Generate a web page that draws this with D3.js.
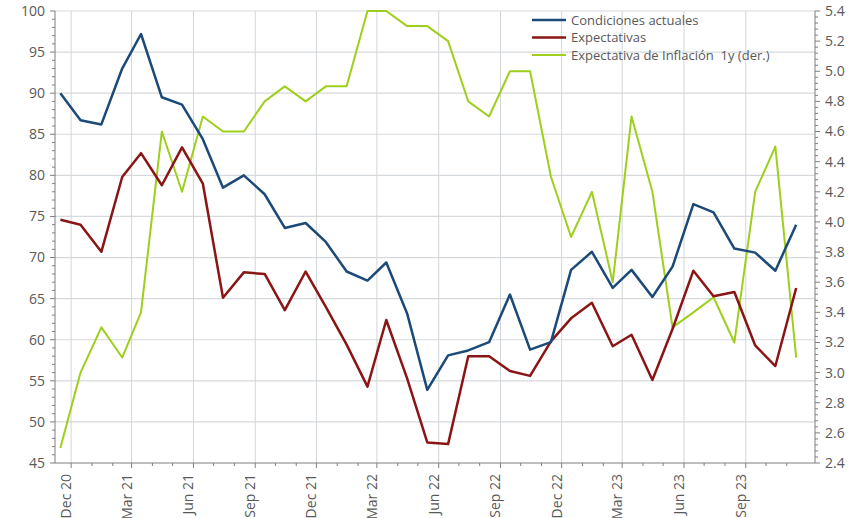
<!DOCTYPE html>
<html>
<head>
<meta charset="utf-8">
<script src="https://cdn.jsdelivr.net/npm/d3@7"></script>
<style>
  body { margin: 0; background: #fff; }
  svg { display: block; }
  text { font-family: "Open Sans", "Liberation Sans", sans-serif; fill: #595959; }
</style>
</head>
<body>
<svg id="chart" width="861" height="518"></svg>
<script>
// Months: Nov 2020 .. Nov 2023 (mid-month observations)
const months = ["2020-11","2020-12","2021-01","2021-02","2021-03","2021-04","2021-05","2021-06","2021-07","2021-08","2021-09","2021-10","2021-11","2021-12","2022-01","2022-02","2022-03","2022-04","2022-05","2022-06","2022-07","2022-08","2022-09","2022-10","2022-11","2022-12","2023-01","2023-02","2023-03","2023-04","2023-05","2023-06","2023-07","2023-08","2023-09","2023-10","2023-11"];
const condicionesActuales = [90.0,86.7,86.2,93.0,97.2,89.5,88.6,84.4,78.5,80.0,77.7,73.6,74.2,71.9,68.3,67.2,69.4,63.2,53.9,58.1,58.7,59.7,65.5,58.8,59.7,68.5,70.7,66.3,68.5,65.2,68.9,76.5,75.5,71.1,70.6,68.4,74.0];
const expectativas = [74.6,74.0,70.7,79.8,82.7,78.8,83.4,79.0,65.1,68.2,68.0,63.6,68.3,64.0,59.4,54.3,62.4,55.3,47.5,47.3,58.0,58.0,56.2,55.6,59.8,62.6,64.5,59.2,60.6,55.1,61.3,68.4,65.3,65.8,59.3,56.8,66.3];
const inflacion1y = [2.5,3.0,3.3,3.1,3.4,4.6,4.2,4.7,4.6,4.6,4.8,4.9,4.8,4.9,4.9,5.4,5.4,5.3,5.3,5.2,4.8,4.7,5.0,5.0,4.3,3.9,4.2,3.6,4.7,4.2,3.3,3.4,3.5,3.2,4.2,4.5,3.1];
const seriesNames = ["Condiciones actuales","Expectativas","Expectativa de Inflación  1y (der.)"];
const seriesColors = ["#1b4a78","#8b1515","#9dcf1c"];
const leftTicks = [45,50,55,60,65,70,75,80,85,90,95,100];
const rightTicks = [2.4,2.6,2.8,3.0,3.2,3.4,3.6,3.8,4.0,4.2,4.4,4.6,4.8,5.0,5.2,5.4];
const monthAbbr = ["Jan","Feb","Mar","Apr","May","Jun","Jul","Aug","Sep","Oct","Nov","Dec"];

const svg = d3.select("#chart");
const L = 55, R = 815, T = 11, B = 463;
const parse = s => { const [y,m] = s.split("-").map(Number); return new Date(y, m-1, 15); };
const dates = months.map(parse);

const x = d3.scaleTime().domain([new Date(2020,10,7), new Date(2023,11,13)]).range([L, R]);
const yL = d3.scaleLinear().domain([45,100]).range([B, T]);
const yR = d3.scaleLinear().domain([2.4,5.4]).range([B, T]);

const monthTicks = d3.timeMonth.range(new Date(2020,10,1), new Date(2023,11,1)).filter(d => x(d) >= L && x(d) <= R);
const quarterTicks = monthTicks.filter(d => d.getMonth() % 3 === 2);

// gridlines
const grid = svg.append("g");
grid.selectAll("line.h").data(leftTicks.slice(1)).enter().append("line")
  .attr("x1", L).attr("x2", R).attr("y1", d => yL(d)).attr("y2", d => yL(d))
  .attr("stroke", "#d6dadd").attr("stroke-width", 1.2);
grid.selectAll("line.v").data(quarterTicks).enter().append("line")
  .attr("x1", d => x(d)).attr("x2", d => x(d)).attr("y1", T).attr("y2", B)
  .attr("stroke", "#d3d6d9").attr("stroke-width", 1);

// left axis
const axL = svg.append("g");
axL.append("line").attr("x1", L).attr("x2", L).attr("y1", T).attr("y2", B).attr("stroke", "#7f7f7f");
axL.selectAll("line.mn").data(d3.range(45,101,1)).enter().append("line")
  .attr("x1", d => d % 5 === 0 ? L-5 : L-3).attr("x2", L).attr("y1", d => yL(d)).attr("y2", d => yL(d)).attr("stroke", "#7f7f7f");
axL.selectAll("text").data(leftTicks).enter().append("text")
  .attr("x", L-10).attr("y", d => yL(d)).attr("dy", "0.35em").attr("text-anchor", "end")
  .attr("font-size", 14).text(d => d);

// right axis
const axR = svg.append("g");
axR.append("line").attr("x1", R).attr("x2", R).attr("y1", T).attr("y2", B).attr("stroke", "#7f7f7f");
axR.selectAll("line.mn").data(d3.range(0,76)).enter().append("line")
  .attr("x1", R).attr("x2", d => d % 5 === 0 ? R+5 : R+3)
  .attr("y1", d => yR(2.4 + d*0.04)).attr("y2", d => yR(2.4 + d*0.04)).attr("stroke", "#7f7f7f");
axR.selectAll("text").data(rightTicks).enter().append("text")
  .attr("x", R+10).attr("y", d => yR(d)).attr("dy", "0.35em").attr("text-anchor", "start")
  .attr("font-size", 14).text(d => d.toFixed(1));

// bottom axis
const axB = svg.append("g");
axB.append("line").attr("x1", L).attr("x2", R).attr("y1", B).attr("y2", B).attr("stroke", "#7f7f7f");
axB.selectAll("line.mn").data(monthTicks).enter().append("line")
  .attr("x1", d => x(d)).attr("x2", d => x(d)).attr("y1", B)
  .attr("y2", d => d.getMonth() % 3 === 2 ? B+5 : B+3).attr("stroke", "#7f7f7f");
axB.selectAll("text").data(quarterTicks).enter().append("text")
  .attr("transform", d => `translate(${x(d)-5},${B+11}) rotate(-90)`)
  .attr("text-anchor", "end").attr("dy", "0.35em").attr("font-size", 14)
  .text(d => monthAbbr[d.getMonth()] + " " + String(d.getFullYear()).slice(2));

// lines
const lineL = d3.line().x((d,i) => x(dates[i])).y(d => yL(d));
const lineR = d3.line().x((d,i) => x(dates[i])).y(d => yR(d));
svg.append("path").datum(inflacion1y).attr("d", lineR).attr("fill", "none")
  .attr("stroke", seriesColors[2]).attr("stroke-width", 2).attr("stroke-linejoin", "round");
svg.append("path").datum(expectativas).attr("d", lineL).attr("fill", "none")
  .attr("stroke", seriesColors[1]).attr("stroke-width", 2.5).attr("stroke-linejoin", "round");
svg.append("path").datum(condicionesActuales).attr("d", lineL).attr("fill", "none")
  .attr("stroke", seriesColors[0]).attr("stroke-width", 2.5).attr("stroke-linejoin", "round");

// legend
const leg = svg.append("g");
seriesNames.forEach((n, i) => {
  const yy = 20 + i*17.5;
  leg.append("line").attr("x1", 532).attr("x2", 566).attr("y1", yy).attr("y2", yy)
    .attr("stroke", seriesColors[i]).attr("stroke-width", i === 2 ? 2 : 2.5);
  leg.append("text").attr("x", 571).attr("y", yy).attr("dy", "0.35em")
    .attr("font-size", 13).attr("xml:space", "preserve").style("white-space", "pre").text(n);
});
</script>
</body>
</html>
